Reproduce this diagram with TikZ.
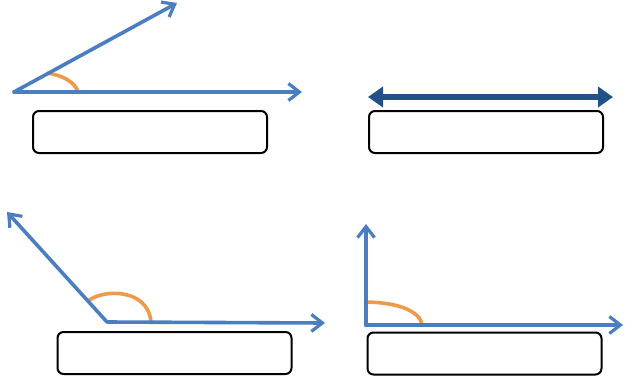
\documentclass[tikz,border=0pt]{standalone}
\usetikzlibrary{arrows.meta}
\definecolor{rayblue}{HTML}{4A7EC0}
\definecolor{darkblue}{HTML}{24508A}
\definecolor{arcorange}{HTML}{EE9A4A}
\tikzset{
  ray/.style={draw=rayblue, line width=3.6pt, line cap=round, -{Straight Barb[length=11pt,width=17pt,line width=3.2pt]}},
  anglearc/.style={draw=arcorange, line width=3.6pt},
  labelbox/.style={draw=black, line width=2pt, rounded corners=6pt, minimum width=234pt, minimum height=42pt, inner sep=0pt, fill=white},
  dbl/.style={draw=darkblue, line width=6pt, {Triangle[length=15pt,width=20pt]}-{Triangle[length=15pt,width=20pt]}}
}
\begin{document}
\begin{tikzpicture}[x=1pt,y=-1pt]
\useasboundingbox (0,0) rectangle (633,381);
% panel 1: acute
\coordinate (v1) at (14,92);
\coordinate (e1a) at (177,3);
\coordinate (e1b) at (302,92);
\coordinate (a1s) at (47,73);
\coordinate (a1e) at (78,92);
\draw[anglearc] (a1s) .. controls (62,75) and (75,82) .. (a1e);
\draw[ray] (v1) -- (e1a);
\draw[ray] (v1) -- (e1b);
\node[labelbox] (box1) at (150,132) {};
% panel 2: line
\coordinate (l2a) at (368,97);
\coordinate (l2b) at (613,97);
\draw[dbl] (l2a) -- (l2b);
\node[labelbox] (box2) at (486,132) {};
% panel 3: obtuse
\coordinate (v3) at (107,322);
\coordinate (e3a) at (7,212);
\coordinate (e3b) at (325,323);
\coordinate (a3s) at (87,302);
\coordinate (a3e) at (151,322);
\draw[anglearc] (a3s) .. controls (100,289) and (148,287) .. (a3e);
\draw[ray] (v3) -- (e3a);
\draw[ray] (v3) -- (e3b);
\node[labelbox] (box3) at (174.5,353) {};
% panel 4: right
\coordinate (v4) at (366,325);
\coordinate (e4a) at (366,224);
\coordinate (e4b) at (623,325);
\coordinate (a4s) at (364,302);
\coordinate (a4e) at (422,325);
\draw[anglearc] (a4s) .. controls (395,302) and (420,310) .. (a4e);
\draw[ray, line width=4.5pt] (v4) -- (e4a);
\draw[ray] (v4) -- (e4b);
\node[labelbox] (box4) at (484.5,353.5) {};
\end{tikzpicture}
\end{document}
